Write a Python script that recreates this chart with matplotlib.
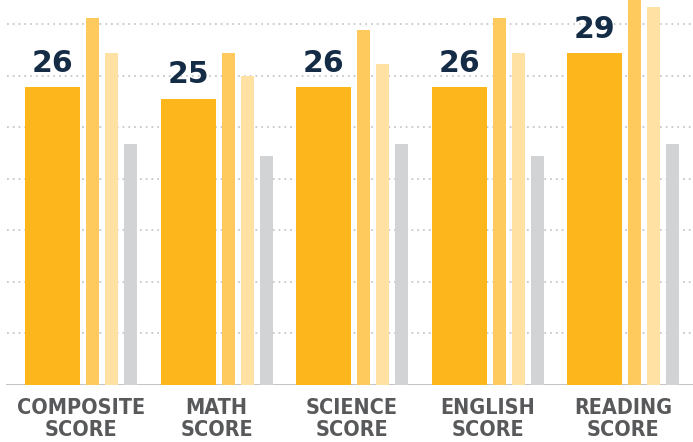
import matplotlib
matplotlib.use("Agg")
import matplotlib.pyplot as plt
import numpy as np

# === 数据 ===
categories = ["COMPOSITE\nSCORE", "MATH\nSCORE", "SCIENCE\nSCORE", "ENGLISH\nSCORE", "READING\nSCORE"]
main_scores = [26, 25, 26, 26, 29]
series_b = [32, 29, 31, 32, 34]
series_c = [29, 27, 28, 29, 33]
series_d = [21, 20, 21, 20, 21]

# === 样式 ===
c_main = "#FDB71C"
c_b = "#FECA5D"
c_c = "#FEE1A3"
c_d = "#D1D3D4"
c_text = "#152C47"
c_label = "#58595B"

W, H = 693, 442
fig = plt.figure(figsize=(W / 100, H / 100), dpi=100)
ax = fig.add_axes([0, 57.5 / H, 1, 384.5 / H])

x = np.arange(len(categories))
w_main = 55 / 135.5
w_thin = 13 / 135.5
off_b, off_c, off_d = 61 / 135.5, 80 / 135.5, 99 / 135.5
base = -0.2

ax.bar(x, np.array(main_scores) - base, bottom=base, width=w_main, align="edge", color=c_main, zorder=3)
ax.bar(x + off_b, np.array(series_b) - base, bottom=base, width=w_thin, align="edge", color=c_b, zorder=3)
ax.bar(x + off_c, np.array(series_c) - base, bottom=base, width=w_thin, align="edge", color=c_c, zorder=3)
ax.bar(x + off_d, np.array(series_d) - base, bottom=base, width=w_thin, align="edge", color=c_d, zorder=3)

# 数值标签
for xi, v in zip(x, main_scores):
    ax.text(xi + w_main / 2, v + 0.8, str(v), ha="center", va="bottom",
            fontsize=21.5, fontweight="heavy", color=c_text, family="DejaVu Sans")

# 类别标签
for xi, lab in zip(x, categories):
    ax.text(xi + (off_d + w_thin) / 2, -1.15, lab, ha="center", va="top",
            fontsize=15.5, fontweight="bold", fontstretch="condensed",
            color=c_label, linespacing=1.12, family="DejaVu Sans")

# 网格线（点状）
x_left = -25 / 135.5
for gy in np.arange(4.5, 33, 4.5):
    ax.axhline(gy, xmin=7 / W, xmax=1, color="#C8C8C8", lw=1.3,
               dashes=(1, 2.2), zorder=1)
ax.axhline(0, xmin=7 / W, xmax=1, color="#C4C4C4", lw=2.2, zorder=2)

ax.set_xlim(x_left, x_left + W / 135.5)
ax.set_ylim(0, 384.5 / 11.44)
ax.axis("off")
for t in ax.texts:
    t.set_clip_on(False)

fig.savefig("out.png", dpi=100)
